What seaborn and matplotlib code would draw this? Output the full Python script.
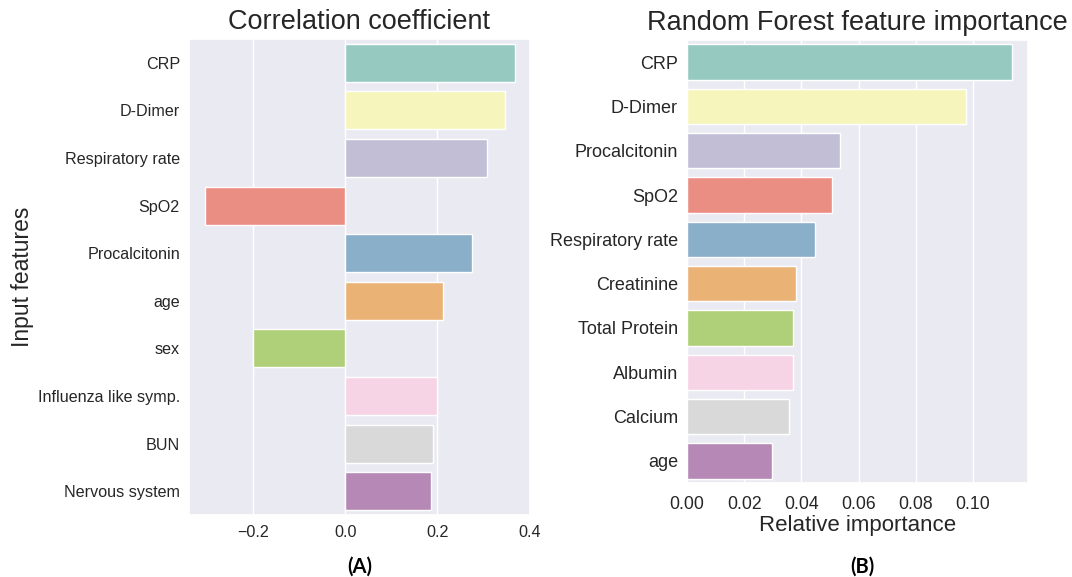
import matplotlib
matplotlib.use("Agg")
import matplotlib.pyplot as plt
import seaborn as sns
import pandas as pd

# Panel A: correlation coefficient
corr_features = ["CRP", "D-Dimer", "Respiratory rate", "SpO2", "Procalcitonin",
                 "age", "sex", "Influenza like symp.", "BUN", "Nervous system"]
corr_values = [0.367, 0.347, 0.307, -0.305, 0.275, 0.212, -0.200, 0.199, 0.190, 0.186]

# Panel B: random forest feature importance
rf_features = ["CRP", "D-Dimer", "Procalcitonin", "SpO2", "Respiratory rate",
               "Creatinine", "Total Protein", "Albumin", "Calcium", "age"]
rf_values = [0.1136, 0.0975, 0.0536, 0.0508, 0.0448, 0.0383, 0.0372, 0.0370, 0.0357, 0.0299]

sns.set_theme(style="darkgrid")
plt.rcParams["font.family"] = ["Liberation Sans", "DejaVu Sans"]
plt.rcParams["text.color"] = "#262626"

fig = plt.figure(figsize=(10.72, 5.77), dpi=100)

axA = fig.add_axes([189 / 1072, 1 - 515 / 577, 341 / 1072, 476 / 577])
axB = fig.add_axes([687 / 1072, 1 - 483 / 577, 341 / 1072, 443 / 577])

dfA = pd.DataFrame({"feature": corr_features, "value": corr_values})
dfB = pd.DataFrame({"feature": rf_features, "value": rf_values})

sns.barplot(data=dfA, x="value", y="feature", hue="feature", palette="Set3",
            legend=False, ax=axA)
sns.barplot(data=dfB, x="value", y="feature", hue="feature", palette="Set3",
            legend=False, ax=axB)

axA.set_title("Correlation coefficient", fontsize=19.5, pad=7)
axA.set_xlabel("")
axA.set_ylabel("Input features", fontsize=16.5)
axA.yaxis.set_label_coords(-0.455, 0.5)
axA.set_xticks([-0.2, 0.0, 0.2, 0.4])
axA.tick_params(axis="y", labelsize=11.6, pad=0.5)
axA.tick_params(axis="x", labelsize=11.6, pad=1.5)

axB.set_title("Random Forest feature importance", fontsize=19.5, pad=7)
axB.set_xlabel("Relative importance", fontsize=16, labelpad=1)
axB.set_ylabel("")
axB.set_xticks([0.00, 0.02, 0.04, 0.06, 0.08, 0.10])
axB.set_xticklabels(["0.00", "0.02", "0.04", "0.06", "0.08", "0.10"])
axB.tick_params(axis="y", labelsize=13, pad=0.5)
axB.tick_params(axis="x", labelsize=12.7, pad=3.5)

fig.text(360 / 1072, 1 - 567 / 577, "(A)", ha="center", va="center",
         fontsize=14.5, fontweight="bold", family=["Lato", "DejaVu Sans"], color="black")
fig.text(862 / 1072, 1 - 567 / 577, "(B)", ha="center", va="center",
         fontsize=14.5, fontweight="bold", family=["Lato", "DejaVu Sans"], color="black")

fig.savefig("out.png", dpi=100)
